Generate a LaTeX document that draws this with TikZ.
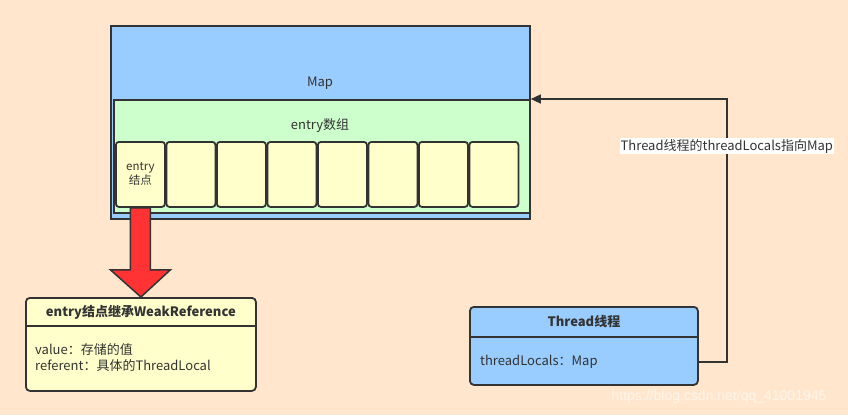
\documentclass[tikz,border=0pt]{standalone}
\usepackage{fontspec}
\setmainfont{Noto Sans CJK SC}
\newfontfamily\wmfont{Liberation Sans}
\usepackage{tikz}
\usetikzlibrary{calc,positioning,arrows.meta}
\definecolor{bgpeach}{HTML}{FFE6CC}
\definecolor{mapblue}{HTML}{99CCFF}
\definecolor{arrgreen}{HTML}{CCFFCC}
\definecolor{cellyellow}{HTML}{FFFFCC}
\definecolor{blockred}{HTML}{FF3333}
\definecolor{inkgray}{HTML}{333333}
\tikzset{
txt/.style={
  text=inkgray,
  font=\fontsize{13}{16}\selectfont,
  inner sep=1pt
  },
boxbase/.style={
  draw=inkgray,
  line width=1.8pt,
  anchor=north west,
  inner sep=0pt
  },
mapbox/.style={
  boxbase,
  fill=#1
  },
cellbox/.style={
  boxbase,
  fill=cellyellow,
  rounded corners=3pt,
  minimum width=49,
  minimum height=65
  },
classbox/.style={
  boxbase,
  fill=#1,
  rounded corners=4pt
  },
conn/.style={
  draw=inkgray,
  line width=1.5pt,
  -{Triangle[length=10pt,width=9pt]}
  }
}

\begin{document}
\begin{tikzpicture}[x=1pt,y=-1pt]
            \fill[bgpeach] (0,0) rectangle (848,415);
            \useasboundingbox (0,0) rectangle (848,415);
            % map and entry array
            \node[mapbox=mapblue,minimum width=419,minimum height=193] (map) at (110,25) {};
            \node[txt] (maptext) at (320,83) {Map};
            \node[mapbox=arrgreen,minimum width=416,minimum height=113] (arr) at (113,99) {};
            \node[txt] (arrtext) at (320,126) {entry数组};
            \foreach \i in {0,...,7}
            {
                \node[cellbox] (cell\i) at ({115+50.5*\i},141) {};
            }
            \node[txt,align=center,font=\fontsize{11.5}{14}\selectfont] (celltext) at (cell0.center) {entry\\结点};
            % entry class box
            \node[classbox=cellyellow,minimum width=230,minimum height=93] (wref) at (25,297) {};
            \draw[inkgray,line width=1.3pt] ($(wref.north west)+(0,29)$) -- ($(wref.north east)+(0,29)$);
            \node[txt,font=\fontsize{13}{16}\selectfont\bfseries] (wreftitle) at ($(wref.north)+(0,15)$) {entry结点继承WeakReference};
            \node[txt,align=left,anchor=north west] (wrefbody) at ($(wref.north west)+(9,45)$) {value：存储的值\\referent：具体的ThreadLocal};
            % thread class box
            \node[classbox=mapblue,minimum width=228,minimum height=78] (thread) at (469,306) {};
            \draw[inkgray,line width=1.3pt] ($(thread.north west)+(0,31)$) -- ($(thread.north east)+(0,31)$);
            \node[txt,font=\fontsize{13}{16}\selectfont\bfseries] (threadtitle) at ($(thread.north)+(0,16)$) {Thread线程};
            \node[txt,anchor=west] (threadbody) at ($(thread.north west)+(10,56)$) {threadLocals：Map};
            \coordinate (threadout) at (thread.east |- threadbody);
            % block arrow from the first cell
            \draw[inkgray,line width=1.5pt,fill=blockred]
                ($(cell0.south)+(-10,0)$) -- ($(cell0.south)+(10,0)$)
                -- ($(cell0.south)+(10,62)$) -- ($(cell0.south)+(30,62)$)
                -- (wref.north) -- ($(cell0.south)+(-30,62)$)
                -- ($(cell0.south)+(-10,62)$) -- cycle;
            % thread points to map
            \draw[conn] (threadout) -- ++(28,0) |- (arr.north east)
                node[pos=0.41,txt,fill=white,inner sep=1pt] (connlabel) {Thread线程的threadLocals指向Map};
            % watermark
            \node[text=white,opacity=0.6,font=\wmfont\fontsize{14}{16}\selectfont] (wm) at (719,397) {https://blog.csdn.net/qq\_41001945};
        \end{tikzpicture}
\end{document}
